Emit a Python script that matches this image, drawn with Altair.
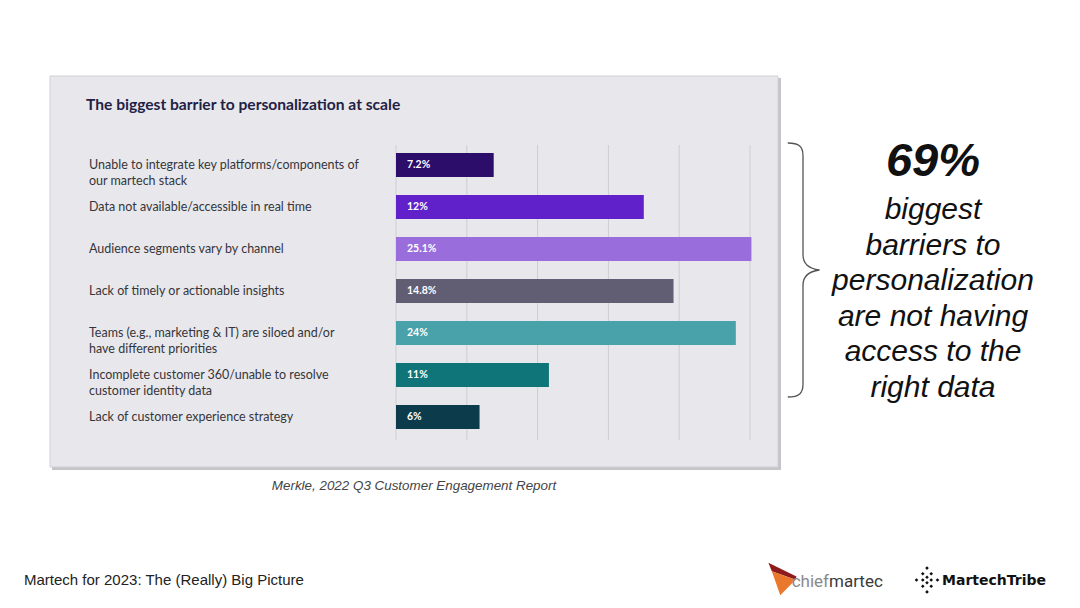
import altair as alt
import pandas as pd

# ---------------- data ----------------
categories = [
    "Unable to integrate key platforms/components of our martech stack",
    "Data not available/accessible in real time",
    "Audience segments vary by channel",
    "Lack of timely or actionable insights",
    "Teams (e.g., marketing & IT) are siloed and/or have different priorities",
    "Incomplete customer 360/unable to resolve customer identity data",
    "Lack of customer experience strategy",
]
category_labels = [
    "Unable to integrate key platforms/components of\nour martech stack",
    "Data not available/accessible in real time",
    "Audience segments vary by channel",
    "Lack of timely or actionable insights",
    "Teams (e.g., marketing & IT) are siloed and/or\nhave different priorities",
    "Incomplete customer 360/unable to resolve\ncustomer identity data",
    "Lack of customer experience strategy",
]
# bar lengths as drawn in the picture (grid step = 5)
bar_lengths = [6.9, 17.5, 25.1, 19.6, 24.0, 10.8, 5.9]
value_labels = ["7.2%", "12%", "25.1%", "14.8%", "24%", "11%", "6%"]
bar_colors = ["#2c0d6a", "#6021cb", "#9a6ddc", "#615e73", "#49a1a9", "#0f7578", "#0c3b4b"]
grid_ticks = [0, 5, 10, 15, 20, 25]

title_text = "The biggest barrier to personalization at scale"
source_text = "Merkle, 2022 Q3 Customer Engagement Report"
headline = "69%"
callout = "biggest\nbarriers to\npersonalization\nare not having\naccess to the\nright data"
footer = "Martech for 2023: The (Really) Big Picture"

df = pd.DataFrame({
    "cat": categories,
    "label": category_labels,
    "len": bar_lengths,
    "val": value_labels,
    "color": bar_colors,
})
grid_df = pd.DataFrame({"t": grid_ticks})
one = pd.DataFrame({"a": [0]})

W, H = 1064, 592
BODY = "Lato"
ARIAL = "Liberation Sans"

xscale = alt.Scale(domain=[0, 25], range=[388, 742], zero=True, nice=False, clamp=False)
yscale = alt.Scale(domain=categories, range=[136, 430], paddingInner=0.43, paddingOuter=0.215)
y_enc = alt.Y("cat:N", scale=yscale, axis=None, sort=categories)

base1 = alt.Chart(one)

shadow = base1.mark_rect(color="#c4c4c9").encode(
    x=alt.value(44), x2=alt.value(773), y=alt.value(70), y2=alt.value(462))
panel = base1.mark_rect(color="#e8e8ec", stroke="#d0d0d5", strokeWidth=1).encode(
    x=alt.value(42), x2=alt.value(770), y=alt.value(68), y2=alt.value(459))

grid = alt.Chart(grid_df).mark_rule(color="#cdcdd3", strokeWidth=1).encode(
    x=alt.X("t:Q", scale=xscale, axis=None),
    y=alt.value(137), y2=alt.value(432))

bars = alt.Chart(df).mark_bar().encode(
    x=alt.X("len:Q", scale=xscale, axis=None),
    y=y_enc,
    color=alt.Color("color:N", scale=None, legend=None))

val_text = alt.Chart(df).mark_text(
    align="left", baseline="middle", font=BODY, fontWeight="bold", fontSize=10.5, color="white"
).encode(x=alt.value(399), y=y_enc, text="val:N")

cat_text = alt.Chart(df).mark_text(
    align="left", baseline="middle", font=BODY, fontSize=12.5, color="#35353b",
    lineBreak="\n", lineHeight=16
).encode(x=alt.value(81), y=y_enc, text="label:N")

title = base1.mark_text(
    align="left", baseline="middle", font=BODY, fontWeight="bold", fontSize=15.6, color="#1f2245"
).encode(x=alt.value(78), y=alt.value(97), text=alt.value(title_text))

source = base1.mark_text(
    align="center", baseline="middle", font=ARIAL, fontStyle="italic", fontSize=13.4, color="#444444"
).encode(x=alt.value(406), y=alt.value(478), text=alt.value(source_text))

big = base1.mark_text(
    align="center", baseline="middle", font=ARIAL, fontStyle="italic", fontWeight="bold",
    fontSize=47, color="#111111"
).encode(x=alt.value(925), y=alt.value(154), text=alt.value(headline))

call = base1.mark_text(
    align="center", baseline="middle", font=ARIAL, fontStyle="italic", fontSize=30,
    color="#111111", lineBreak="\n", lineHeight=35.6
).encode(x=alt.value(925), y=alt.value(202), text=alt.value(callout))

brace_path = ("M -0.12 -1 C -0.03 -1 0 -0.97 0 -0.9 L 0 -0.12 C 0 -0.05 0.05 -0.01 0.13 0 "
              "C 0.05 0.01 0 0.05 0 0.12 L 0 0.9 C 0 0.97 -0.03 1 -0.12 1")
brace = base1.mark_point(shape=brace_path, filled=False, size=254 * 254, strokeWidth=1.3,
                         color="#555555", opacity=1).encode(x=alt.value(795), y=alt.value(262))

foot = base1.mark_text(
    align="left", baseline="middle", font=ARIAL, fontSize=15, color="#222222"
).encode(x=alt.value(16), y=alt.value(572), text=alt.value(footer))

# chiefmartec logo
logo_top = ("M -0.8 -0.95 L 0.85 -0.15 L 0.8 0.05 L -0.6 -0.45 Z")
logo_bot = ("M -0.6 -0.45 L 0.8 0.05 L -0.1 0.95 Z")
logo1 = base1.mark_point(shape=logo_top, filled=True, size=34 * 34, color="#8e1c1c", opacity=1).encode(
    x=alt.value(774), y=alt.value(571))
logo2 = base1.mark_point(shape=logo_bot, filled=True, size=34 * 34, color="#e9782c", opacity=1).encode(
    x=alt.value(774), y=alt.value(571))
chief = base1.mark_text(align="right", baseline="middle", font="Roboto", fontSize=17,
                        color="#8a8a8a").encode(x=alt.value(821), y=alt.value(574), text=alt.value("chief"))
martec = base1.mark_text(align="left", baseline="middle", font="Roboto", fontSize=17,
                         color="#3a3a3a").encode(x=alt.value(821), y=alt.value(574), text=alt.value("martec"))

# MartechTribe mark: diamond of dots
dots = [(0, -0.85), (-0.3, -0.45), (0.3, -0.45), (-0.75, 0), (-0.3, 0), (0.3, 0), (0.75, 0),
        (-0.3, 0.45), (0.3, 0.45), (0, 0.85), (0, -0.2), (0, 0.2)]
r = 0.13
tribe_path = " ".join(f"M {x - r} {y} L {x} {y - r} L {x + r} {y} L {x} {y + r} Z" for x, y in dots)
tribe_mark = base1.mark_point(shape=tribe_path, filled=True, size=28 * 28, color="#111111", opacity=1).encode(
    x=alt.value(919), y=alt.value(572))
tribe = base1.mark_text(align="left", baseline="middle", font="DejaVu Sans", fontWeight="bold",
                        fontSize=14, color="#111111").encode(
    x=alt.value(934), y=alt.value(573), text=alt.value("MartechTribe"))

chart = alt.layer(
    shadow, panel, grid, bars, val_text, cat_text, title, source, big, call, brace,
    foot, logo1, logo2, chief, martec, tribe_mark, tribe
).properties(
    width=W, height=H, autosize=alt.AutoSizeParams(type="none"), padding=0, background="white"
).configure_view(stroke=None)

chart.save("out.html", embed_options={"renderer": "svg", "actions": False})
